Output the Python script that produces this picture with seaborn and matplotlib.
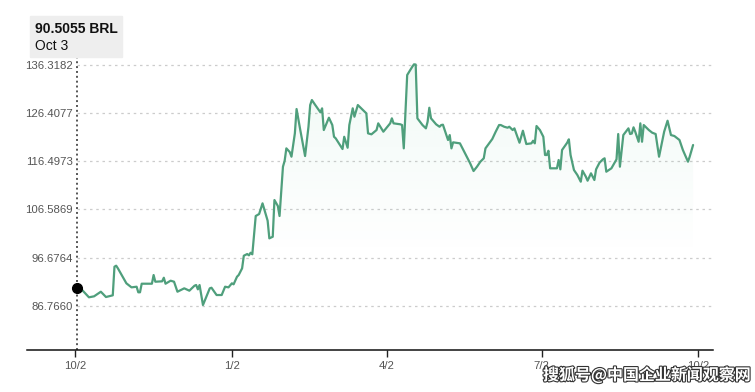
import matplotlib
matplotlib.use("Agg")
import matplotlib.pyplot as plt
import matplotlib.dates as mdates
import matplotlib.patheffects as pe
from matplotlib.colors import ListedColormap
import numpy as np
import pandas as pd
import seaborn as sns

# Data: BRL price, one point per traced vertex (days after the first date)
START = "2023-10-03"
day_offsets = [
    0, 3, 7, 10, 14, 17, 21, 22, 23, 24,
    29, 32, 35, 36, 37, 38, 44, 45, 46, 50,
    51, 52, 55, 57, 59, 63, 66, 69, 70, 71,
    72, 74, 78, 79, 82, 85, 87, 89, 91, 92,
    94, 95, 97, 98, 100, 101, 102, 103, 105, 107,
    109, 112, 113, 115, 116, 118, 119, 121, 122, 123,
    125, 126, 128, 129, 131, 134, 136, 137, 138, 140,
    143, 144, 145, 148, 150, 151, 152, 156, 157, 159,
    160, 162, 163, 165, 170, 171, 173, 176, 177, 180,
    184, 185, 186, 190, 191, 192, 194, 197, 198, 199,
    200, 203, 205, 206, 207, 208, 211, 213, 214, 215,
    217, 218, 219, 220, 221, 225, 227, 229, 231, 233,
    235, 237, 239, 240, 244, 246, 248, 249, 251, 253,
    254, 256, 257, 260, 262, 264, 267, 268, 269, 270,
    272, 274, 275, 276, 277, 278, 282, 283, 284, 285,
    288, 289, 290, 292, 294, 296, 297, 299, 300, 302,
    304, 305, 307, 309, 310, 311, 314, 317, 318, 319,
    321, 324, 325, 326, 327, 328, 330, 331, 332, 333,
    336, 338, 340, 342, 345, 347, 349, 351, 354, 356,
    359, 360, 362,
]
prices = [
    90.5055, 89.99, 88.49, 88.69, 89.64, 88.55, 88.90, 94.79, 95.00, 94.46,
    91.37, 90.54, 90.67, 89.52, 89.52, 91.29, 91.29, 93.08, 91.70, 91.78,
    92.52, 91.29, 91.91, 91.70, 89.64, 90.34, 89.85, 90.87, 91.02, 90.13,
    91.02, 86.90, 90.34, 90.46, 88.96, 88.96, 90.67, 90.54, 91.37, 91.16,
    92.73, 93.08, 94.46, 97.05, 97.40, 97.13, 97.67, 97.34, 105.23, 105.64,
    107.84, 104.26, 100.63, 100.96, 108.52, 107.29, 105.23, 115.38, 116.61, 119.16,
    118.40, 117.44, 122.25, 127.26, 123.29, 117.58, 123.61, 128.08, 129.11, 128.08,
    126.58, 127.40, 122.93, 125.47, 123.96, 121.55, 121.22, 119.02, 121.55, 119.29,
    123.96, 127.40, 125.67, 128.08, 126.37, 122.25, 122.05, 122.93, 124.31, 122.59,
    124.31, 125.34, 124.31, 124.11, 123.96, 119.16, 134.26, 135.97, 136.46, 136.42,
    125.34, 123.96, 123.28, 124.64, 127.52, 125.34, 124.11, 123.61, 123.96, 124.03,
    121.90, 120.88, 121.90, 119.16, 120.40, 120.19, 118.82, 117.44, 116.08, 114.49,
    115.38, 116.41, 117.11, 119.16, 121.08, 122.58, 123.96, 123.96, 123.61, 123.41,
    123.61, 122.93, 123.28, 120.32, 122.79, 120.05, 120.19, 120.73, 120.19, 123.76,
    122.93, 121.55, 117.79, 117.79, 118.67, 115.05, 115.05, 116.76, 114.84, 118.82,
    120.32, 121.02, 117.79, 114.70, 113.67, 112.29, 114.56, 113.32, 112.50, 114.02,
    112.64, 114.84, 116.20, 116.90, 117.11, 114.35, 115.05, 116.90, 122.11, 115.38,
    121.90, 123.28, 122.11, 122.21, 123.49, 122.59, 120.52, 124.31, 120.52, 123.96,
    122.93, 122.38, 122.11, 117.44, 122.59, 124.85, 121.90, 121.70, 120.88, 118.82,
    116.41, 117.44, 119.85,
]
tick_dates = ["2023-10-02", "2024-01-02", "2024-04-02", "2024-07-02", "2024-10-02"]
tick_labels = ["10/2", "1/2", "4/2", "7/2", "10/2"]
y_ticks = [86.7660, 96.6764, 106.5869, 116.4973, 126.4077, 136.3182]
y_tick_labels = ["86.7660", "96.6764", "106.5869", "116.4973", "126.4077", "136.3182"]
tooltip_value = "90.5055 BRL"
tooltip_date = "Oct 3"
watermark = "搜狐号@中国企业新闻观察网"

LINE_COLOR = "#4f9f7c"
TEXT_COLOR = "#555555"

sns.set_theme(style="white")
plt.rcParams["font.family"] = ["Liberation Sans", "DejaVu Sans"]

df = pd.DataFrame({
    "date": pd.Timestamp(START) + pd.to_timedelta(day_offsets, unit="D"),
    "price": prices,
})

fig = plt.figure(figsize=(7.55, 3.92), dpi=100)
ax = fig.add_axes([27 / 755, 1 - 350 / 392, 686 / 755, 293 / 392])

y_lo, y_hi = 77.64, 137.97
x_lo = pd.Timestamp(START) - pd.Timedelta(days=29.4)
x_hi = pd.Timestamp(START) + pd.Timedelta(days=373.7)

# dotted horizontal grid, starting at the crosshair
ax.hlines(y_ticks, df["date"].iloc[0], x_hi, colors="#cccccc",
          linestyles=(0, (2, 3)), linewidth=0.9, zorder=0)

# gradient fill under the line
fill = ax.fill_between(df["date"], df["price"], y_lo, color="none", lw=0)
rgba = np.zeros((256, 4))
rgba[:, :3] = matplotlib.colors.to_rgb("#5cc498")
rgba[:, 3] = np.linspace(0, 0.09, 256)
grad = np.linspace(0, 1, 256).reshape(-1, 1)
im = ax.imshow(grad, extent=[mdates.date2num(x_lo), mdates.date2num(x_hi), 97, 136.5],
               origin="lower", cmap=ListedColormap(rgba), aspect="auto", zorder=1)
im.set_clip_path(fill.get_paths()[0], transform=ax.transData)

sns.lineplot(data=df, x="date", y="price", color=LINE_COLOR, linewidth=1.6, ax=ax, zorder=3)

# hover crosshair and dot at first point
ax.axvline(df["date"].iloc[0], color="#555555", linestyle=(0, (1, 1.5)), linewidth=1.4, zorder=2)
ax.plot(df["date"].iloc[0], df["price"].iloc[0], "o", color="black", markersize=7, zorder=4)

ax.set_xlim(x_lo, x_hi)
ax.set_ylim(y_lo, y_hi)
ax.set_xlabel("")
ax.set_ylabel("")

ax.set_xticks(pd.to_datetime(tick_dates))
ax.set_xticklabels(tick_labels)
ax.set_yticks(y_ticks)
ax.set_yticklabels(y_tick_labels)
ax.tick_params(axis="x", bottom=True, length=5, width=1, color="#222222", pad=3,
               labelsize=8.2, labelcolor=TEXT_COLOR)
ax.tick_params(axis="y", left=False, length=0, pad=-33.1, labelsize=8.2, labelcolor=TEXT_COLOR)

for side in ["top", "right", "left"]:
    ax.spines[side].set_visible(False)
ax.spines["bottom"].set_color("#111111")
ax.spines["bottom"].set_linewidth(1.1)
ax.grid(False)

# tooltip box
fig.patches.append(plt.Rectangle((30 / 755, 1 - 57 / 392), 92 / 755, 41 / 392,
                                 transform=fig.transFigure, color="#eeeeee", zorder=0))
fig.text(35 / 755, 1 - 29 / 392, tooltip_value, fontsize=10, fontweight="bold",
         color="#111111", va="center", ha="left")
fig.text(35 / 755, 1 - 45.5 / 392, tooltip_date, fontsize=10, color="#111111",
         va="center", ha="left")

# watermark
fig.text(543 / 755, 1 - 375 / 392, watermark, fontsize=11.5, fontweight="bold",
         family=["Noto Sans CJK SC", "DejaVu Sans"], color="white", va="center", ha="left",
         path_effects=[pe.withStroke(linewidth=1.6, foreground="#333333")])

fig.savefig("out.png", dpi=100)
plt.close(fig)
